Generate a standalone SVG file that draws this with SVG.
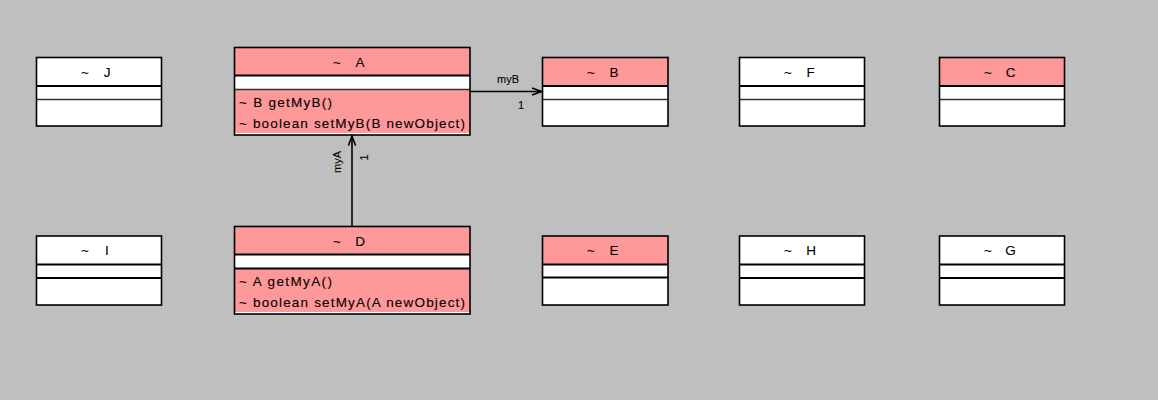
<svg xmlns="http://www.w3.org/2000/svg" width="1158" height="400" viewBox="0 0 1158 400">
<style>
.bg{fill:#bfbfbf}
.box{fill:none;stroke:#000;stroke-width:1.6}
.w{fill:#fff}
.p{fill:#ff9999}
.d1{stroke:#000;stroke-width:1.8}
.d2{stroke:#333;stroke-width:1.4}
.t{font-family:"Liberation Sans",Arial,sans-serif;font-size:13.5px;fill:#000;stroke:#000;stroke-width:0.1;text-anchor:middle}
.m{font-family:"Liberation Sans",Arial,sans-serif;font-size:13.5px;fill:#000;stroke:#000;stroke-width:0.1}
.l{font-family:"Liberation Sans",Arial,sans-serif;font-size:11px;fill:#000;stroke:#000;stroke-width:0.1;text-anchor:middle}
.c{fill:none;stroke:#000;stroke-width:1.6}
</style>
<rect class="bg" x="0" y="0" width="1158" height="400"/>

<g id="J">
<rect class="w" x="36.5" y="57.5" width="125" height="68.5"/>
<line class="d1" x1="36.5" y1="86" x2="161.5" y2="86"/>
<line class="d2" x1="36.5" y1="99.5" x2="161.5" y2="99.5"/>
<rect class="box" x="36.5" y="57.5" width="125" height="68.5"/>
<text class="t" x="85" y="76.5">~</text><text class="t" x="107" y="76.5">J</text>
</g>

<g id="A">
<rect class="p" x="234.5" y="47.5" width="235.5" height="28"/>
<rect class="w" x="234.5" y="75.5" width="235.5" height="14"/>
<rect class="p" x="234.5" y="89.5" width="235.5" height="43.5"/>
<rect class="w" x="234.5" y="133" width="235.5" height="2"/>
<line class="d1" x1="234.5" y1="75.5" x2="470" y2="75.5"/>
<line class="d2" x1="234.5" y1="89.5" x2="470" y2="89.5"/>
<rect class="box" x="234.5" y="47.5" width="235.5" height="87.5"/>
<text class="t" x="337" y="67.3">~</text><text class="t" x="360" y="67.3">A</text>
<text class="m" x="239" y="106.7" textLength="93" lengthAdjust="spacing">~ B getMyB()</text>
<text class="m" x="239" y="127.5" textLength="226" lengthAdjust="spacing">~ boolean setMyB(B newObject)</text>
</g>

<g id="B">
<rect class="p" x="542.5" y="57.5" width="125.5" height="28.5"/>
<rect class="w" x="542.5" y="86" width="125.5" height="40"/>
<line class="d1" x1="542.5" y1="86" x2="668" y2="86"/>
<line class="d2" x1="542.5" y1="99.5" x2="668" y2="99.5"/>
<rect class="box" x="542.5" y="57.5" width="125.5" height="68.5"/>
<text class="t" x="591" y="76.5">~</text><text class="t" x="614" y="76.5">B</text>
</g>

<g id="F">
<rect class="w" x="739.5" y="57.5" width="125" height="68.5"/>
<line class="d1" x1="739.5" y1="86" x2="864.5" y2="86"/>
<line class="d2" x1="739.5" y1="99.5" x2="864.5" y2="99.5"/>
<rect class="box" x="739.5" y="57.5" width="125" height="68.5"/>
<text class="t" x="788" y="76.5">~</text><text class="t" x="810.5" y="76.5">F</text>
</g>

<g id="C">
<rect class="p" x="939.5" y="57.5" width="125" height="28.5"/>
<rect class="w" x="939.5" y="86" width="125" height="40"/>
<line class="d1" x1="939.5" y1="86" x2="1064.5" y2="86"/>
<line class="d2" x1="939.5" y1="99.5" x2="1064.5" y2="99.5"/>
<rect class="box" x="939.5" y="57.5" width="125" height="68.5"/>
<text class="t" x="988" y="76.5">~</text><text class="t" x="1010.5" y="76.5">C</text>
</g>

<g id="I">
<rect class="w" x="36.5" y="236" width="125" height="69"/>
<line class="d1" x1="36.5" y1="264.5" x2="161.5" y2="264.5"/>
<line class="d1" x1="36.5" y1="278" x2="161.5" y2="278"/>
<rect class="box" x="36.5" y="236" width="125" height="69"/>
<text class="t" x="85" y="255">~</text><text class="t" x="107" y="255">I</text>
</g>

<g id="D">
<rect class="p" x="234.5" y="226.5" width="235.5" height="28"/>
<rect class="w" x="234.5" y="254.5" width="235.5" height="14"/>
<rect class="p" x="234.5" y="268.5" width="235.5" height="43.5"/>
<rect class="w" x="234.5" y="312" width="235.5" height="2"/>
<line class="d1" x1="234.5" y1="254.5" x2="470" y2="254.5"/>
<line class="d1" x1="234.5" y1="268.5" x2="470" y2="268.5"/>
<rect class="box" x="234.5" y="226.5" width="235.5" height="87.5"/>
<text class="t" x="337" y="245.5">~</text><text class="t" x="360" y="245.5">D</text>
<text class="m" x="239" y="285.7" textLength="93" lengthAdjust="spacing">~ A getMyA()</text>
<text class="m" x="239" y="306.5" textLength="226" lengthAdjust="spacing">~ boolean setMyA(A newObject)</text>
</g>

<g id="E">
<rect class="p" x="542.5" y="236" width="125.5" height="28.5"/>
<rect class="w" x="542.5" y="264.5" width="125.5" height="40.5"/>
<line class="d1" x1="542.5" y1="264.5" x2="668" y2="264.5"/>
<line class="d1" x1="542.5" y1="277.5" x2="668" y2="277.5"/>
<rect class="box" x="542.5" y="236" width="125.5" height="69"/>
<text class="t" x="591" y="255">~</text><text class="t" x="614" y="255">E</text>
</g>

<g id="H">
<rect class="w" x="739.5" y="236" width="125" height="69"/>
<line class="d1" x1="739.5" y1="264.5" x2="864.5" y2="264.5"/>
<line class="d1" x1="739.5" y1="278" x2="864.5" y2="278"/>
<rect class="box" x="739.5" y="236" width="125" height="69"/>
<text class="t" x="788" y="255">~</text><text class="t" x="811" y="255">H</text>
</g>

<g id="G">
<rect class="w" x="939.5" y="236" width="125" height="69"/>
<line class="d1" x1="939.5" y1="264.5" x2="1064.5" y2="264.5"/>
<line class="d1" x1="939.5" y1="278" x2="1064.5" y2="278"/>
<rect class="box" x="939.5" y="236" width="125" height="69"/>
<text class="t" x="988" y="255">~</text><text class="t" x="1010.5" y="255">G</text>
</g>

<g id="connectors">
<line class="c" x1="470" y1="91.5" x2="541.5" y2="91.5"/>
<polyline class="c" points="532,88 541.5,91.5 532,95"/>
<text class="l" x="508" y="83">myB</text>
<text class="l" x="521" y="109">1</text>

<line class="c" x1="352" y1="226.5" x2="352" y2="136"/>
<polyline class="c" points="348.5,145.5 352,136 355.5,145.5"/>
<text class="l" x="340.5" y="162" transform="rotate(-90 340.5 162)">myA</text>
<text class="l" x="368" y="157.5" transform="rotate(-90 368 157.5)">1</text>
</g>
</svg>
